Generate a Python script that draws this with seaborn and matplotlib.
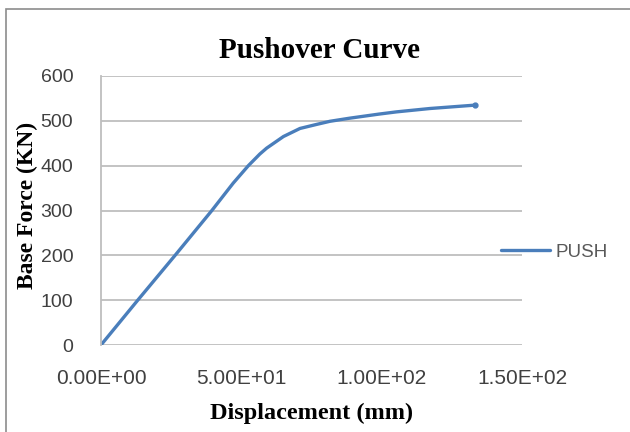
import matplotlib
matplotlib.use("Agg")
import matplotlib.pyplot as plt
import seaborn as sns
import pandas as pd
from matplotlib.patches import Rectangle

# Data
displacement = [0.0, 13.1, 26.4, 39.5, 47.1, 52.5, 56.6, 59.0, 65.0, 70.9,
                76.8, 81.6, 88.7, 99.0, 105.3, 117.2, 133.2]
base_force = [0.0, 100.0, 200.0, 300.0, 361.0, 400.0, 426.0, 439.0, 465.0, 483.0,
              492.0, 499.0, 506.0, 515.0, 520.0, 527.5, 535.0]
series_name = "PUSH"
x_ticks = [0, 50, 100, 150]
x_tick_labels = ["0.00E+00", "5.00E+01", "1.00E+02", "1.50E+02"]
y_ticks = [0, 100, 200, 300, 400, 500, 600]

df = pd.DataFrame({"Displacement": displacement, "Base Force": base_force,
                   "series": [series_name] * len(displacement)})

sns.set_theme(style="white")
plt.rcParams["font.family"] = ["Liberation Sans", "DejaVu Sans"]

fig = plt.figure(figsize=(6.3, 4.32), dpi=100)
ax = fig.add_axes([101 / 630, 1 - 345 / 432, 421 / 630, 269 / 432])

blue = "#4A7EBB"
sns.lineplot(data=df, x="Displacement", y="Base Force", hue="series",
             palette=[blue], sort=False, linewidth=2.4, ax=ax, legend=True,
             solid_capstyle="round", solid_joinstyle="round")
ax.plot(displacement[-1:], base_force[-1:], marker="o", markersize=3.5,
        color=blue, linestyle="none")

ax.set_xlim(0, 150)
ax.set_ylim(0, 600)
ax.set_xticks(x_ticks)
ax.set_xticklabels(x_tick_labels)
ax.set_yticks(y_ticks)

ax.grid(axis="y", color="#BEBEBE", linewidth=1.3)
ax.grid(axis="x", visible=False)
ax.set_axisbelow(True)
for s in ["top", "right", "bottom"]:
    ax.spines[s].set_visible(False)
ax.spines["left"].set_color("#BEBEBE")
ax.spines["left"].set_linewidth(1.3)

ax.tick_params(axis="both", length=0, colors="#404040")
ax.tick_params(axis="x", pad=17, labelsize=15)
ax.tick_params(axis="y", pad=20, labelsize=14)

serif = ["Liberation Serif", "DejaVu Serif"]
ax.set_title("Pushover Curve", fontfamily=serif, fontweight="bold",
             fontsize=21, color="black", pad=13, x=0.519)
ax.set_xlabel("Displacement (mm)", fontfamily=serif, fontweight="bold",
              fontsize=17.5, color="black", labelpad=11)
ax.set_ylabel("Base Force (KN)", fontfamily=serif, fontweight="bold",
              fontsize=17, color="black")
ax.yaxis.set_label_coords(-0.150, 0.52)

leg = ax.legend(loc="center left", bbox_to_anchor=(0.91, 0.345), frameon=False,
                fontsize=13.5, handlelength=2.6, handletextpad=0.3,
                labelcolor="#595959")
for h in leg.get_lines():
    h.set_linewidth(2.4)

# chart border
fig.patches.append(Rectangle((6 / 630, -0.1), 1.2, 1 - 9 / 432 + 0.1,
                             transform=fig.transFigure, fill=False,
                             edgecolor="#8C8C8C", linewidth=1.2))

fig.savefig("out.png", dpi=100)
